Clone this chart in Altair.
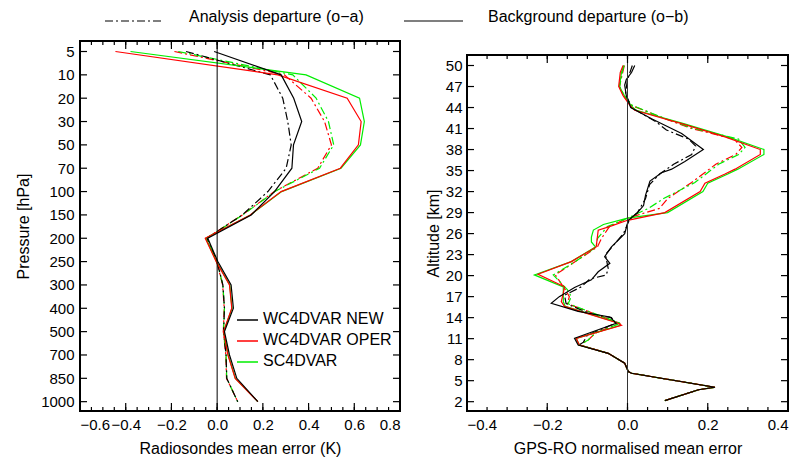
import json
import numpy as np
import pandas as pd
import altair as alt

# ---------------- data: left panel (radiosondes) ----------------
p_levels = [5, 10, 20, 30, 50, 70, 100, 150, 200, 250, 300, 400, 500, 700, 850, 1000]
left_new_ob = [-0.013, 0.28, 0.335, 0.37, 0.334, 0.327, 0.251, 0.149, -0.041, 0.003, 0.061, 0.071, 0.032, 0.054, 0.086, 0.178]
left_oper_ob = [-0.445, 0.266, 0.569, 0.63, 0.618, 0.539, 0.28, 0.145, -0.052, -0.004, 0.054, 0.064, 0.028, 0.047, 0.079, 0.178]
left_sc_ob = [-0.379, 0.389, 0.623, 0.644, 0.627, 0.542, 0.282, 0.146, -0.05, -0.003, 0.055, 0.065, 0.029, 0.048, 0.08, 0.178]
left_new_oa = [-0.136, 0.233, 0.287, 0.309, 0.324, 0.302, 0.222, 0.11, -0.045, 0.0, 0.025, 0.032, 0.028, 0.039, 0.042, 0.09]
left_oper_oa = [-0.187, 0.294, 0.411, 0.47, 0.50, 0.44, 0.25, 0.11, -0.047, -0.002, 0.024, 0.031, 0.027, 0.038, 0.041, 0.09]
left_sc_oa = [-0.17, 0.331, 0.433, 0.487, 0.51, 0.448, 0.252, 0.112, -0.046, -0.001, 0.025, 0.032, 0.028, 0.039, 0.042, 0.09]

# ---------------- data: right panel (GPS-RO) ----------------
r_new_ob_alt = [50, 49, 48, 47.2, 45.7, 44, 42.4, 40.3, 38, 36.3, 35.2, 34.7, 33.5, 31.5, 30, 29, 27.9, 26, 24.1, 22.7, 21.75, 20.55, 19.4, 18.3, 17, 16.05, 14.9, 14.1, 13.2, 11.05, 10.1, 8.9, 7.5, 6.3, 6.06, 4.06, 3.7, 2.16]
r_new_ob_val = [0.018, 0.01, -0.003, -0.007, -0.003, 0.008, 0.06, 0.135, 0.189, 0.143, 0.11, 0.085, 0.056, 0.045, 0.04, 0.025, 0.002, -0.007, -0.04, -0.057, -0.044, -0.073, -0.09, -0.132, -0.17, -0.19, -0.123, -0.044, -0.028, -0.132, -0.123, -0.048, -0.007, 0.002, 0.01, 0.218, 0.177, 0.093]

r_new_oa_alt = [50, 48, 46, 44, 42, 40.8, 39.5, 38.5, 37.3, 35.9, 34.5, 33, 31, 29, 28, 26, 24, 23, 21, 20.1, 19.5, 18.4, 17.2, 16, 14.5, 14, 13.2, 11.5, 10.5, 10.1, 8.9, 7.5, 6.3, 6.06, 4.06, 3.7, 2.16]
r_new_oa_val = [0.012, 0.0, -0.005, 0.01, 0.07, 0.097, 0.152, 0.17, 0.16, 0.115, 0.08, 0.055, 0.045, 0.025, 0.005, -0.01, -0.04, -0.055, -0.048, -0.053, -0.094, -0.115, -0.157, -0.153, -0.09, -0.04, -0.03, -0.1, -0.11, -0.12, -0.048, -0.007, 0.002, 0.01, 0.218, 0.177, 0.093]

r_oper_ob_alt = [50, 49, 47, 45.7, 44.3, 43.6, 41.7, 39.8, 38, 37.3, 35.2, 34.5, 33.2, 32, 29, 27.9, 27, 26.5, 24.1, 22, 20.2, 18.4, 17.5, 16.3, 15.6, 13.2, 12.9, 11.05, 10.1, 8.9, 7.5, 6.3, 6.06, 4.06, 3.7, 2.16]
r_oper_ob_val = [-0.011, -0.018, -0.022, -0.011, 0.006, 0.018, 0.135, 0.243, 0.331, 0.331, 0.268, 0.243, 0.193, 0.181, 0.093, 0.0, -0.045, -0.073, -0.078, -0.14, -0.223, -0.157, -0.16, -0.165, -0.157, -0.023, -0.015, -0.128, -0.12, -0.048, -0.007, 0.002, 0.01, 0.218, 0.177, 0.093]

r_sc_ob_alt = [50, 49, 47, 45.7, 44.3, 43.6, 41.7, 39.8, 38, 37.3, 35.2, 34.5, 33.2, 32, 29, 28.2, 27.3, 26.5, 25.5, 24.8, 24.1, 22, 20.1, 18.4, 17.5, 16.3, 15.6, 13.2, 12.9, 11.05, 10.1, 8.9, 7.5, 6.3, 6.06, 4.06, 3.7, 2.16]
r_sc_ob_val = [-0.008, -0.015, -0.02, -0.008, 0.008, 0.022, 0.14, 0.25, 0.34, 0.34, 0.275, 0.25, 0.2, 0.188, 0.1, 0.0, -0.06, -0.085, -0.09, -0.09, -0.08, -0.14, -0.232, -0.16, -0.16, -0.16, -0.155, -0.02, -0.018, -0.128, -0.12, -0.048, -0.007, 0.002, 0.01, 0.218, 0.177, 0.093]

r_oa_alt = [50, 47, 45.7, 44.3, 42.4, 41, 39.5, 38.3, 37.3, 35.9, 33.3, 31, 29.6, 28.2, 27, 25.3, 24.1, 22, 20.1, 18, 17, 16, 13.2, 11.8, 10.8, 10.1, 8.9, 7.5, 6.3, 6.06, 4.06, 3.7, 2.16]
r_oper_oa_val = [-0.008, -0.02, -0.01, 0.01, 0.093, 0.16, 0.265, 0.285, 0.27, 0.22, 0.16, 0.1, 0.08, 0.0, -0.045, -0.065, -0.075, -0.13, -0.18, -0.155, -0.145, -0.15, -0.02, -0.08, -0.098, -0.12, -0.048, -0.007, 0.002, 0.01, 0.218, 0.177, 0.093]
r_sc_oa_val = [-0.01, -0.02, -0.008, 0.012, 0.095, 0.165, 0.277, 0.293, 0.277, 0.227, 0.168, 0.09, 0.052, 0.0, -0.05, -0.075, -0.078, -0.13, -0.185, -0.15, -0.14, -0.148, -0.018, -0.08, -0.098, -0.12, -0.048, -0.007, 0.002, 0.01, 0.218, 0.177, 0.093]

legend_names = ["WC4DVAR NEW", "WC4DVAR OPER", "SC4DVAR"]
legend_colors = ["black", "#ff0000", "#00ee00"]

# ---------------- styling ----------------
FONT = "Liberation Sans"
WL, WR, H = 320, 321, 370
TOPR = 14
DASHDOT = [8, 3, 2, 3]
LW = 1.2


def df_line(vals, ys):
    return pd.DataFrame({"v": vals, "y": ys, "seq": np.arange(len(vals))})


def one():
    return pd.DataFrame({"a": [0]})


# ---------------- left panel ----------------
xsL = alt.Scale(domain=[-0.6, 0.8], nice=False, zero=False)
ysL = alt.Scale(domain=[-0.45, 15.4], reverse=True, nice=False, zero=False)
lbl = json.dumps([str(p) for p in p_levels])

xaxL = alt.Axis(values=[-0.6, -0.4, -0.2, 0.0, 0.2, 0.4, 0.6, 0.8], format=".1f",
                title="Radiosondes mean error (K)", labelPadding=6, titlePadding=8)
yaxL = alt.Axis(values=list(range(len(p_levels))), labelExpr=f"{lbl}[datum.value]",
                title="Pressure [hPa]", labelPadding=6, titlePadding=9)

idx = list(range(len(p_levels)))
left_series = [
    (left_oper_oa, "#ff0000", True),
    (left_sc_oa, "#00ee00", True),
    (left_new_oa, "black", True),
    (left_sc_ob, "#00ee00", False),
    (left_oper_ob, "#ff0000", False),
    (left_new_ob, "black", False),
]

layersL = []
for vals, col, dashed in left_series:
    kw = dict(color=col, strokeWidth=LW)
    if dashed:
        kw["strokeDash"] = DASHDOT
    layersL.append(
        alt.Chart(df_line(vals, idx)).mark_line(**kw).encode(
            x=alt.X("v:Q", scale=xsL, axis=xaxL),
            y=alt.Y("y:Q", scale=ysL, axis=yaxL),
            order="seq:Q",
        )
    )

# zero line
layersL.append(alt.Chart(one()).mark_rule(color="black", strokeWidth=1).encode(
    x=alt.datum(0, scale=xsL, axis=xaxL), y=alt.value(0), y2=alt.value(H)))

# inward ticks
tL_minor = pd.DataFrame({"v": np.round(np.arange(-0.6, 0.8001, 0.05), 3)})
tL_major = pd.DataFrame({"v": [-0.6, -0.4, -0.2, 0.0, 0.2, 0.4, 0.6, 0.8]})
tL_y = pd.DataFrame({"y": idx})
for d, ln in ((tL_minor, 4), (tL_major, 8)):
    layersL.append(alt.Chart(d).mark_rule(color="black", strokeWidth=1.2).encode(
        x=alt.X("v:Q", scale=xsL, axis=xaxL), y=alt.value(H), y2=alt.value(H - ln)))
    layersL.append(alt.Chart(d).mark_rule(color="black", strokeWidth=1.2).encode(
        x=alt.X("v:Q", scale=xsL, axis=xaxL), y=alt.value(0), y2=alt.value(ln)))
layersL.append(alt.Chart(tL_y).mark_rule(color="black", strokeWidth=1.2).encode(
    y=alt.Y("y:Q", scale=ysL, axis=yaxL), x=alt.value(0), x2=alt.value(7)))
layersL.append(alt.Chart(tL_y).mark_rule(color="black", strokeWidth=1.2).encode(
    y=alt.Y("y:Q", scale=ysL, axis=yaxL), x=alt.value(WL), x2=alt.value(WL - 7)))

# frame
layersL.append(alt.Chart(one()).mark_rect(fillOpacity=0, stroke="black", strokeWidth=2).encode(
    x=alt.value(0), x2=alt.value(WL), y=alt.value(0), y2=alt.value(H)))

# inner legend
for i, (name, col) in enumerate(zip(legend_names, legend_colors)):
    yy = 279 + 21 * i
    layersL.append(alt.Chart(one()).mark_rule(color=col, strokeWidth=1.5).encode(
        x=alt.value(157), x2=alt.value(178), y=alt.value(yy)))
    layersL.append(alt.Chart(one()).mark_text(
        text=name, font=FONT, fontSize=16, align="left", baseline="middle", color="black"
    ).encode(x=alt.value(183), y=alt.value(yy - 1)))

# top legend (above the panels)
layersL.append(alt.Chart(one()).mark_rule(color="black", strokeWidth=1.2, strokeDash=DASHDOT).encode(
    x=alt.value(25), x2=alt.value(84), y=alt.value(-20)))
layersL.append(alt.Chart(one()).mark_text(
    text="Analysis departure (o\u2212a)", font=FONT, fontSize=16, align="left", baseline="middle", color="black"
).encode(x=alt.value(109), y=alt.value(-24)))
layersL.append(alt.Chart(one()).mark_rule(color="black", strokeWidth=1.2).encode(
    x=alt.value(324), x2=alt.value(383), y=alt.value(-20)))
layersL.append(alt.Chart(one()).mark_text(
    text="Background departure (o\u2212b)", font=FONT, fontSize=16, align="left", baseline="middle", color="black"
).encode(x=alt.value(408), y=alt.value(-24)))

left = alt.layer(*layersL).properties(width=WL, height=H)

# ---------------- right panel ----------------
xsR = alt.Scale(domain=[-0.4, 0.4], nice=False, zero=False)
ysR = alt.Scale(domain=[0.67, 51.5], range=[H, TOPR], nice=False, zero=False)
alt_ticks = [2, 5, 8, 11, 14, 17, 20, 23, 26, 29, 32, 35, 38, 41, 44, 47, 50]

xaxR = alt.Axis(values=[-0.4, -0.2, 0.0, 0.2, 0.4], format=".1f",
                title="GPS-RO normalised mean error", labelPadding=6, titlePadding=8)
yaxR = alt.Axis(values=alt_ticks, format="d", title="Altitude [km]", labelPadding=5, titlePadding=4)

right_series = [
    (r_oa_alt, r_oper_oa_val, "#ff0000", True),
    (r_oa_alt, r_sc_oa_val, "#00ee00", True),
    (r_new_oa_alt, r_new_oa_val, "black", True),
    (r_sc_ob_alt, r_sc_ob_val, "#00ee00", False),
    (r_oper_ob_alt, r_oper_ob_val, "#ff0000", False),
    (r_new_ob_alt, r_new_ob_val, "black", False),
]
layersR = []
for ys_, vals, col, dashed in right_series:
    kw = dict(color=col, strokeWidth=LW)
    if dashed:
        kw["strokeDash"] = DASHDOT
    layersR.append(
        alt.Chart(df_line(vals, ys_)).mark_line(**kw).encode(
            x=alt.X("v:Q", scale=xsR, axis=xaxR),
            y=alt.Y("y:Q", scale=ysR, axis=yaxR),
            order="seq:Q",
        )
    )

layersR.append(alt.Chart(one()).mark_rule(color="#333333", strokeWidth=1).encode(
    x=alt.datum(0, scale=xsR, axis=xaxR), y=alt.value(TOPR), y2=alt.value(H)))

tR_minor = pd.DataFrame({"v": np.round(np.arange(-0.4, 0.4001, 0.05), 3)})
tR_major = pd.DataFrame({"v": [-0.4, -0.2, 0.0, 0.2, 0.4]})
tR_y = pd.DataFrame({"y": alt_ticks})
for d, ln in ((tR_minor, 4), (tR_major, 8)):
    layersR.append(alt.Chart(d).mark_rule(color="black", strokeWidth=1.2).encode(
        x=alt.X("v:Q", scale=xsR, axis=xaxR), y=alt.value(H), y2=alt.value(H - ln)))
    layersR.append(alt.Chart(d).mark_rule(color="black", strokeWidth=1.2).encode(
        x=alt.X("v:Q", scale=xsR, axis=xaxR), y=alt.value(TOPR), y2=alt.value(TOPR + ln)))
layersR.append(alt.Chart(tR_y).mark_rule(color="black", strokeWidth=1.2).encode(
    y=alt.Y("y:Q", scale=ysR, axis=yaxR), x=alt.value(0), x2=alt.value(7)))
layersR.append(alt.Chart(tR_y).mark_rule(color="black", strokeWidth=1.2).encode(
    y=alt.Y("y:Q", scale=ysR, axis=yaxR), x=alt.value(WR), x2=alt.value(WR - 7)))

layersR.append(alt.Chart(one()).mark_rect(fillOpacity=0, stroke="black", strokeWidth=2).encode(
    x=alt.value(0), x2=alt.value(WR), y=alt.value(TOPR), y2=alt.value(H)))

right = alt.layer(*layersR).properties(width=WR, height=H)

chart = (
    alt.hconcat(left, right, spacing=67, bounds="flush")
    .properties(padding={"left": 15, "top": 9, "right": 2, "bottom": 2},
                autosize=alt.AutoSizeParams(type="pad"))
    .configure_view(strokeOpacity=0)
    .configure_axis(labelFont=FONT, titleFont=FONT, labelFontSize=15, titleFontSize=16,
                    titleFontWeight="normal", labelColor="black", titleColor="black",
                    grid=False, domain=False, ticks=False)
)

chart.save("out.html", embed_options={"renderer": "svg", "actions": False})
